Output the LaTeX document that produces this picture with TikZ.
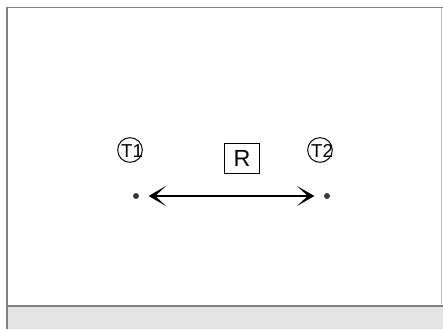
\documentclass[tikz,border=0pt]{standalone}
\usepackage{fontspec}
\setmainfont{Liberation Sans}
\usetikzlibrary{arrows.meta}
\definecolor{framegray}{HTML}{808080}
\definecolor{bandgray}{HTML}{E4E2E3}
\definecolor{dotgray}{HTML}{3A3A3A}
\tikzset{
  tcirc/.style={draw, circle, line width=0.75pt, minimum size=18.5pt, inner sep=0pt},
  tlabel/.style={font=\fontsize{14}{16}\selectfont, inner sep=0pt},
  rbox/.style={draw, line width=0.75pt, minimum width=26pt, minimum height=22.5pt, inner sep=0pt, font=\fontsize{17.5}{19}\selectfont},
  pdot/.style={circle, fill=dotgray, minimum size=4.5pt, inner sep=0pt},
  biarrow/.style={{Stealth[length=13pt, width=15pt, inset=8pt]}-{Stealth[length=13pt, width=15pt, inset=8pt]}, line width=2.1pt},
}
\begin{document}
\begin{tikzpicture}[x=0.75pt, y=-0.75pt]
  \useasboundingbox (0,0) rectangle (443,329);
  % Rahmen und graues Band
  \fill[bandgray] (7,306) rectangle (443,329);
  \draw[framegray, line width=1.4pt] (7,329) -- (7,7.5) -- (443,7.5);
  \draw[framegray!50, line width=0.8pt] (441.5,7.5) -- (441.5,306);
  \draw[framegray, line width=1.4pt] (7,306) -- (443,306);
  % Knoten
  \node[tcirc] (t1) at (130,150) {};
  \node[tlabel] (t1lbl) at (132,151) {T1};
  \node[tcirc] (t2) at (320,150) {};
  \node[tlabel] (t2lbl) at (322,151) {T2};
  \node[rbox] (r) at (242,158) {R};
  \node[pdot] (t1dot) at (136,196) {};
  \node[pdot] (t2dot) at (327,196) {};
  % Pfeil
  \draw[biarrow, shorten <=7pt, shorten >=7pt] (t1dot) -- (t2dot);
\end{tikzpicture}
\end{document}
